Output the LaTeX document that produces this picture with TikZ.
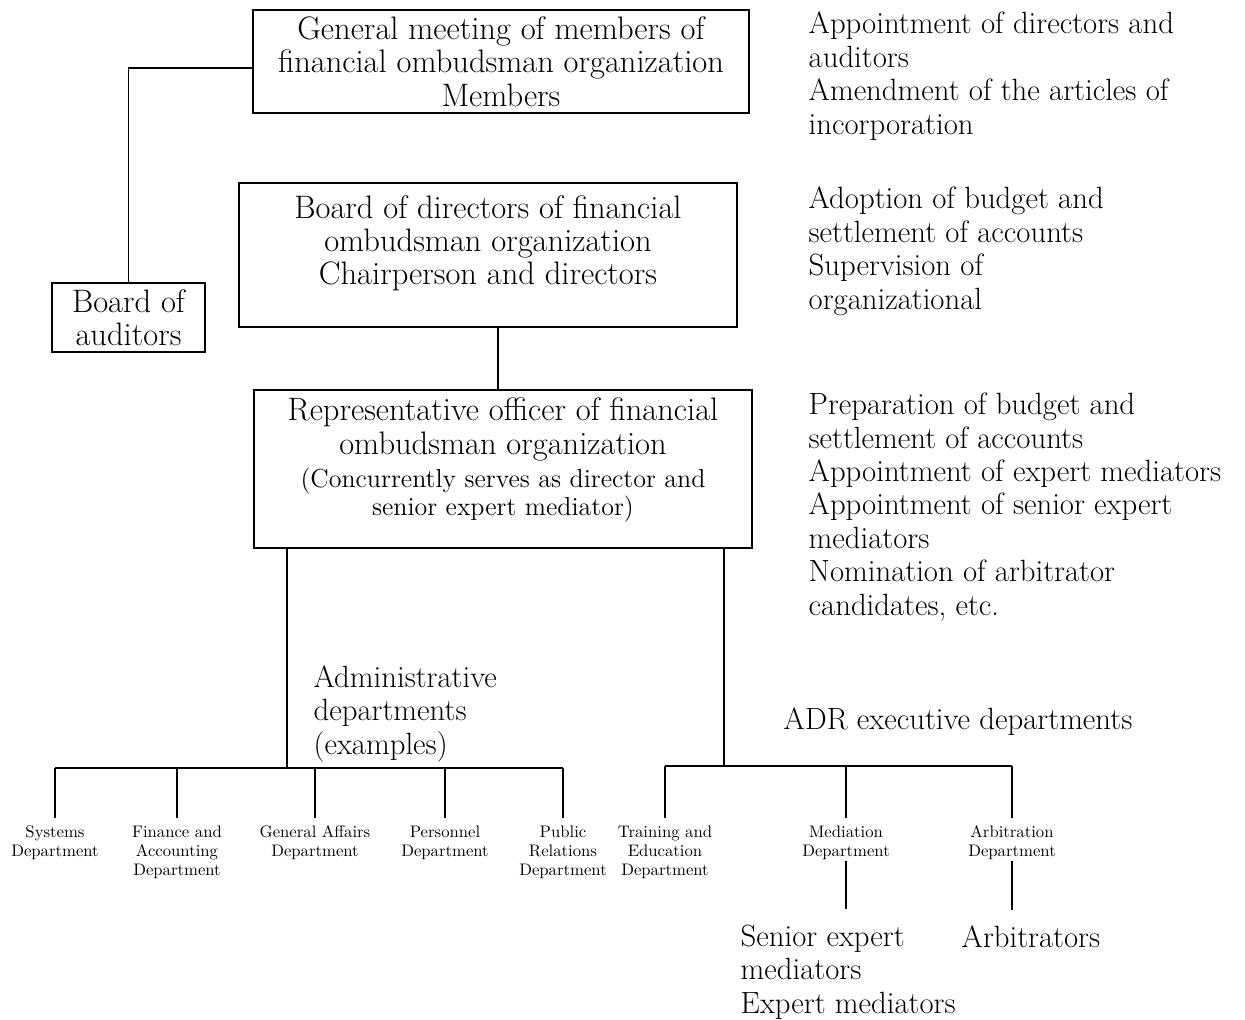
\documentclass[tikz,border=0pt]{standalone}
\usepackage{fontspec}
\newcommand\boxsz{\fontsize{18.5}{19}\selectfont}
\newcommand\mainsz{\fontsize{17.5}{19}\selectfont}
\newcommand\notesz{\fontsize{14.8}{16}\selectfont}
\newcommand\deptsz{\fontsize{9.5}{11}\selectfont}
\begin{document}
\begin{tikzpicture}[x=0.02cm,y=-0.02cm,line width=0.8pt,
    box/.style={draw,align=center,inner sep=0pt,font=\boxsz},
    note/.style={align=left,inner sep=0pt,font=\mainsz,anchor=base west},
    dept/.style={align=center,inner sep=0pt,font=\deptsz,anchor=north}]
  \useasboundingbox (0,0) rectangle (1245,1019);
  % boxes
  \node[box,minimum width=9.92cm,minimum height=2.06cm] (meet) at (501,61.5)
    {General meeting of members of\\financial ombudsman organization\\Members};
  \node[box,minimum width=9.96cm,minimum height=2.88cm] (dir) at (488,255)
    {Board of directors of financial\\ombudsman organization\\Chairperson and directors\\[-2pt]\mbox{}};
  \node[box,minimum width=9.96cm,minimum height=3.16cm] (rep) at (503,469)
    {Representative officer of financial\\ombudsman organization\\
     {\notesz (Concurrently serves as director and}\\[-3pt]{\notesz senior expert mediator)}\\[-5pt]\mbox{}};
  \node[box,minimum width=3.06cm,minimum height=1.38cm] (aud) at (128.5,317.5)
    {Board of\\auditors};
  % duties
  \node[note] (n1) at (808,134) {Appointment of directors and\\auditors\\Amendment of the articles of\\incorporation};
  \node[note] (n2) at (808,309) {Adoption of budget and\\settlement of accounts\\Supervision of\\organizational};
  \node[note] (n3) at (808,615) {Preparation of budget and\\settlement of accounts\\Appointment of expert mediators\\Appointment of senior expert\\mediators\\Nomination of arbitrator\\candidates, etc.};
  \node[note] (adm) at (313,754) {Administrative\\departments\\(examples)};
  \node[note] (adr) at (783,729) {ADR executive departments};
  % departments
  \node[dept] (sys) at (55,825) {Systems\\Department};
  \node[dept] (fin) at (177,825) {Finance and\\Accounting\\Department};
  \node[dept] (gen) at (315,825) {General Affairs\\Department};
  \node[dept] (per) at (445,825) {Personnel\\Department};
  \node[dept] (pub) at (563,825) {Public\\Relations\\Department};
  \node[dept] (trn) at (665,825) {Training and\\Education\\Department};
  \node[dept] (med) at (846,825) {Mediation\\Department};
  \node[dept] (arb) at (1012,825) {Arbitration\\Department};
  \node[note] (sen) at (740,1013) {Senior expert\\mediators\\Expert mediators};
  \node[note] (arbs) at (961,947) {Arbitrators};
  % connectors
  \coordinate (c1) at (498,0);
  \coordinate (admbus) at (287,768);
  \coordinate (adrbus) at (724,766);
  \draw ([yshift=-3.7pt]meet.west) -| (aud.north);
  \draw (dir.south -| c1) -- (rep.north -| c1);
  \draw (rep.south -| admbus) -- (admbus);
  \draw (rep.south -| adrbus) -- (adrbus);
  \draw (sys.north |- admbus) -- (pub.north |- admbus);
  \draw (trn.north |- adrbus) -- (arb.north |- adrbus);
  \foreach \d in {sys,fin,gen,per,pub}
    \draw (\d.north |- admbus) -- ([yshift=4pt]\d.north);
  \foreach \d in {trn,med,arb}
    \draw (\d.north |- adrbus) -- ([yshift=4pt]\d.north);
  \draw (med.south) -- ([yshift=8.5pt]med.south |- sen.north);
  \draw (arb.south) -- ([yshift=8.5pt]arb.south |- arbs.north);
\end{tikzpicture}
\end{document}
